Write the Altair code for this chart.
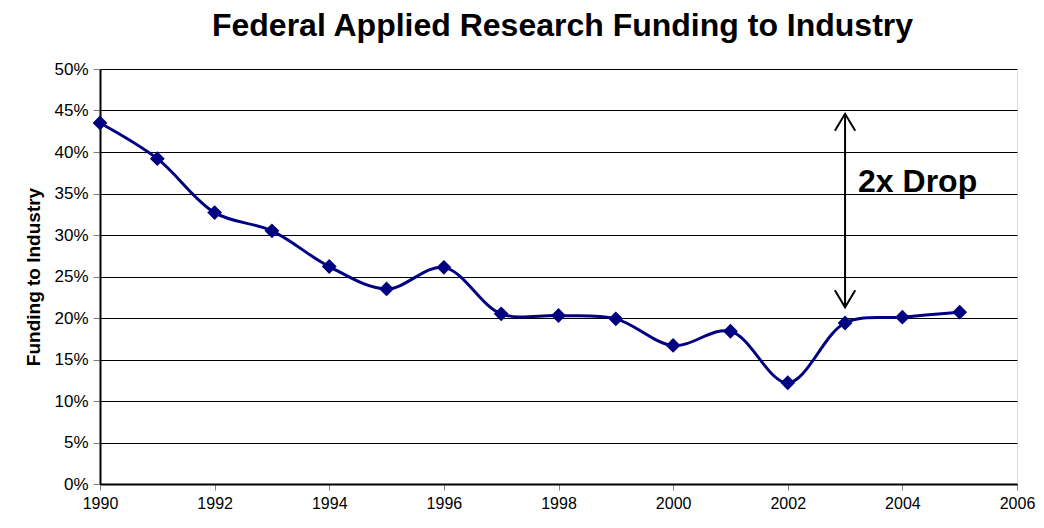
import altair as alt
import pandas as pd

years = [1990, 1991, 1992, 1993, 1994, 1995, 1996, 1997, 1998, 1999,
         2000, 2001, 2002, 2003, 2004, 2005]
funding = [43.5, 39.2, 32.7, 30.5, 26.2, 23.5, 26.1, 20.5, 20.3, 19.9,
           16.7, 18.4, 12.2, 19.4, 20.1, 20.7]

arrow_year = [2003]
arrow_top = [44.6]
arrow_bottom = [21.3]
label_text = ["2x Drop"]
label_value = [35.2]

df = pd.DataFrame({"year": years, "funding": [v / 100 for v in funding]})
arrow_df = pd.DataFrame({"year": arrow_year,
                         "top": [v / 100 for v in arrow_top],
                         "bottom": [v / 100 for v in arrow_bottom]})
label_df = pd.DataFrame({"year": arrow_year, "val": [v / 100 for v in label_value],
                         "text": label_text})

xscale = alt.Scale(domain=[1990, 2006], nice=False, zero=False)
yscale = alt.Scale(domain=[0, 0.5], nice=False)

font = "Liberation Sans"

x_enc = alt.X("year:Q", scale=xscale, title=None,
              axis=alt.Axis(values=list(range(1990, 2007, 2)), format="d",
                            labelFontSize=16, labelColor="black", labelFont=font,
                            labelPadding=5, grid=False, domainColor="black",
                            domainWidth=2, tickColor="#808080", tickSize=6,
                            labelFlush=False))
y_axis = alt.Axis(values=[i / 20 for i in range(11)], format=".0%",
                  labelFontSize=17, labelColor="black", labelFont=font,
                  labelPadding=5, grid=True, gridColor="black", gridWidth=1,
                  domainColor="black", domainWidth=2, tickColor="#808080",
                  tickSize=7, title="Funding to Industry", titleFontSize=19,
                  titleFont=font, titleFontWeight="bold", titleColor="black",
                  titlePadding=10)

line = alt.Chart(df).mark_line(color="#000080", strokeWidth=3,
                               interpolate="catmull-rom").encode(
    x=x_enc,
    y=alt.Y("funding:Q", scale=yscale, axis=y_axis),
)

points = alt.Chart(df).mark_point(shape="diamond", filled=True, color="#000080",
                                  size=220, opacity=1).encode(
    x=alt.X("year:Q", scale=xscale),
    y=alt.Y("funding:Q", scale=yscale),
)

shaft = alt.Chart(arrow_df).mark_rule(color="black", strokeWidth=2).encode(
    x=alt.X("year:Q", scale=xscale),
    y=alt.Y("top:Q", scale=yscale),
    y2="bottom:Q",
)

head_up = alt.Chart(arrow_df).mark_point(
    shape="M-0.6,1L0,0L0.6,1", filled=False, color="black", strokeWidth=2,
    size=1156, opacity=1).encode(
    x=alt.X("year:Q", scale=xscale),
    y=alt.Y("top:Q", scale=yscale),
)

head_down = alt.Chart(arrow_df).mark_point(
    shape="M-0.6,-1L0,0L0.6,-1", filled=False, color="black", strokeWidth=2,
    size=1156, opacity=1).encode(
    x=alt.X("year:Q", scale=xscale),
    y=alt.Y("bottom:Q", scale=yscale),
)

label = alt.Chart(label_df).mark_text(
    align="left", baseline="alphabetic", dx=13, fontSize=32, fontWeight="bold",
    font=font, color="black").encode(
    x=alt.X("year:Q", scale=xscale),
    y=alt.Y("val:Q", scale=yscale),
    text="text:N",
)

chart = alt.layer(line, points, shaft, head_up, head_down, label).properties(
    width=917,
    height=415,
    title=alt.TitleParams("Federal Applied Research Funding to Industry",
                          fontSize=32, fontWeight="bold", font=font,
                          color="black", anchor="middle", offset=17, dx=4),
    autosize=alt.AutoSizeParams(type="none"),
    padding={"left": 92, "top": 61, "right": 19, "bottom": 32},
).configure_view(stroke="black", strokeWidth=1).configure(background="white")

chart.save("out.html", embed_options={"renderer": "svg", "actions": False})
